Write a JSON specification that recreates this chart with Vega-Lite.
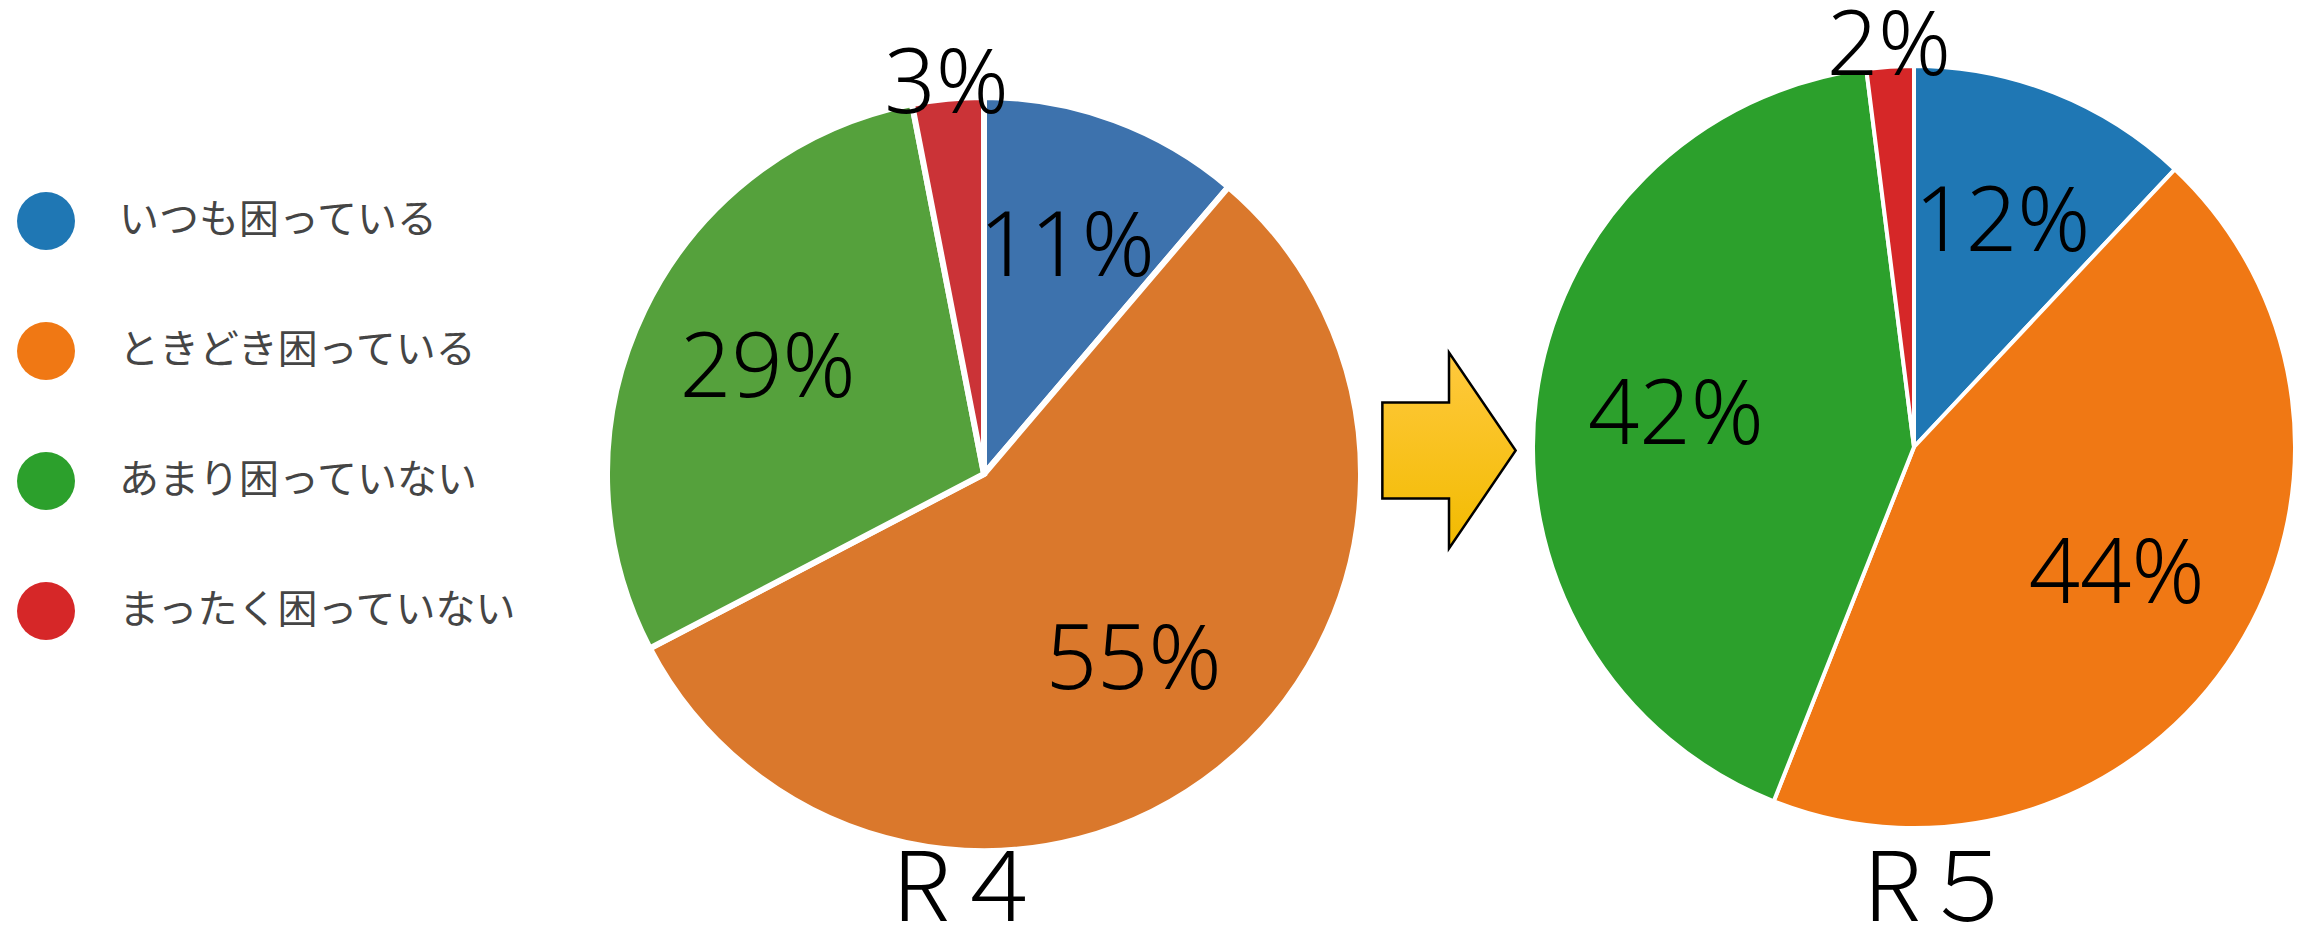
{
  "$schema": "https://vega.github.io/schema/vega-lite/v6.json",
  "width": 2313,
  "height": 929,
  "padding": 0,
  "autosize": {"type": "none"},
  "background": "white",
  "config": {"view": {"stroke": null}, "font": "Noto Sans CJK JP"},
  "datasets": {
    "results": [
      {"survey": "R４", "no": 1, "category": "いつも困っている", "share": 0.11},
      {"survey": "R４", "no": 2, "category": "ときどき困っている", "share": 0.55},
      {"survey": "R４", "no": 3, "category": "あまり困っていない", "share": 0.29},
      {"survey": "R４", "no": 4, "category": "まったく困っていない", "share": 0.03},
      {"survey": "R５", "no": 1, "category": "いつも困っている", "share": 0.12},
      {"survey": "R５", "no": 2, "category": "ときどき困っている", "share": 0.44},
      {"survey": "R５", "no": 3, "category": "あまり困っていない", "share": 0.42},
      {"survey": "R５", "no": 4, "category": "まったく困っていない", "share": 0.02}
    ],
    "surveys": [{"survey": "R４"}, {"survey": "R５"}],
    "transition": [{"survey": "→"}]
  },
  "encoding": {
    "x": {"field": "survey", "type": "nominal", "axis": null,
          "scale": {"type": "point", "padding": 0, "domain": ["R４", "→", "R５"], "range": [984, 1914]}},
    "y": {"field": "survey", "type": "nominal", "axis": null,
          "scale": {"type": "point", "padding": 0, "domain": ["R４", "→", "R５"], "range": [474, 447]}}
  },
  "layer": [
    {
      "data": {"name": "results"},
      "transform": [{"filter": "datum.survey === 'R４'"}],
      "mark": {"type": "arc", "radius": 377, "stroke": "white", "strokeWidth": 6},
      "encoding": {
        "theta": {"field": "share", "type": "quantitative", "stack": "normalize"},
        "order": {"field": "no", "type": "quantitative"},
        "fill": {"field": "category", "type": "nominal", "legend": null,
                 "scale": {"domain": ["まったく困っていない", "あまり困っていない", "ときどき困っている", "いつも困っている"],
                           "range": ["#cb3337", "#55a13c", "#da782c", "#3d72ad"]}}
      }
    },
    {
      "data": {"name": "results"},
      "transform": [{"filter": "datum.survey === 'R５'"}],
      "mark": {"type": "arc", "radius": 381, "stroke": "white", "strokeWidth": 4},
      "encoding": {
        "theta": {"field": "share", "type": "quantitative", "stack": "normalize"},
        "order": {"field": "no", "type": "quantitative"},
        "color": {"field": "category", "type": "nominal",
                  "scale": {"domain": ["いつも困っている", "ときどき困っている", "あまり困っていない", "まったく困っていない"],
                            "range": ["#1f77b4", "#f07814", "#2ca02c", "#d62728"]},
                  "legend": {"orient": "none", "legendX": 17, "legendY": 192, "title": null,
                             "direction": "vertical", "symbolType": "circle", "symbolSize": 3364,
                             "symbolStrokeWidth": 0, "symbolOpacity": 1,
                             "labelFont": "Noto Sans CJK JP", "labelFontSize": 40, "labelColor": "#454545",
                             "labelOffset": 44, "labelLimit": 0, "rowPadding": 72, "padding": 0}}
      }
    },
    {
      "data": {"name": "results"},
      "transform": [{"filter": "datum.survey === 'R４'"}],
      "mark": {"type": "text", "radius": 240, "font": "Noto Sans", "fontSize": 90, "fontWeight": 300, "fill": "black", "align": "center", "baseline": "middle"},
      "encoding": {
        "theta": {"field": "share", "type": "quantitative", "stack": "normalize"},
        "order": {"field": "no", "type": "quantitative"},
        "detail": {"field": "category"},
        "text": {"field": "share", "type": "quantitative", "format": ".0%",
                 "condition": {"test": "datum.share < 0.05", "value": ""}}
      }
    },
    {
      "data": {"name": "results"},
      "transform": [{"filter": "datum.survey === 'R４'"}],
      "mark": {"type": "text", "radius": 390, "font": "Noto Sans", "fontSize": 90, "fontWeight": 300, "fill": "black", "align": "center", "baseline": "middle"},
      "encoding": {
        "theta": {"field": "share", "type": "quantitative", "stack": "normalize"},
        "order": {"field": "no", "type": "quantitative"},
        "detail": {"field": "category"},
        "text": {"field": "share", "type": "quantitative", "format": ".0%",
                 "condition": {"test": "datum.share >= 0.05", "value": ""}}
      }
    },
    {
      "data": {"name": "results"},
      "transform": [{"filter": "datum.survey === 'R５'"}],
      "mark": {"type": "text", "radius": 240, "font": "Noto Sans", "fontSize": 90, "fontWeight": 300, "fill": "black", "align": "center", "baseline": "middle"},
      "encoding": {
        "theta": {"field": "share", "type": "quantitative", "stack": "normalize"},
        "order": {"field": "no", "type": "quantitative"},
        "detail": {"field": "category"},
        "text": {"field": "share", "type": "quantitative", "format": ".0%",
                 "condition": {"test": "datum.share < 0.05", "value": ""}}
      }
    },
    {
      "data": {"name": "results"},
      "transform": [{"filter": "datum.survey === 'R５'"}],
      "mark": {"type": "text", "radius": 400, "font": "Noto Sans", "fontSize": 90, "fontWeight": 300, "fill": "black", "align": "center", "baseline": "middle"},
      "encoding": {
        "theta": {"field": "share", "type": "quantitative", "stack": "normalize"},
        "order": {"field": "no", "type": "quantitative"},
        "detail": {"field": "category"},
        "text": {"field": "share", "type": "quantitative", "format": ".0%",
                 "condition": {"test": "datum.share >= 0.05", "value": ""}}
      }
    },
    {
      "data": {"name": "surveys"},
      "transform": [{"filter": "datum.survey === 'R４'"}],
      "mark": {"type": "text", "fontSize": 96, "fontWeight": 300, "fill": "black", "align": "center", "baseline": "alphabetic", "dx": -15, "dy": 447},
      "encoding": {"text": {"field": "survey"}}
    },
    {
      "data": {"name": "surveys"},
      "transform": [{"filter": "datum.survey === 'R５'"}],
      "mark": {"type": "text", "fontSize": 96, "fontWeight": 300, "fill": "black", "align": "center", "baseline": "alphabetic", "dx": 26, "dy": 474},
      "encoding": {"text": {"field": "survey"}}
    },
    {
      "data": {"name": "transition"},
      "mark": {
        "type": "point",
        "shape": "M-0.68,-0.49L0,-0.49L0,-1L0.68,0L0,1L0,0.49L-0.68,0.49Z",
        "size": 38416,
        "filled": true,
        "opacity": 1,
        "fill": {"gradient": "linear", "x1": 0, "y1": 0, "x2": 0, "y2": 1,
                 "stops": [{"offset": 0, "color": "#ffc93e"}, {"offset": 1, "color": "#f2bb00"}]},
        "stroke": "black",
        "strokeWidth": 2.5,
        "yOffset": -10
      },
      "encoding": {}
    }
  ]
}
